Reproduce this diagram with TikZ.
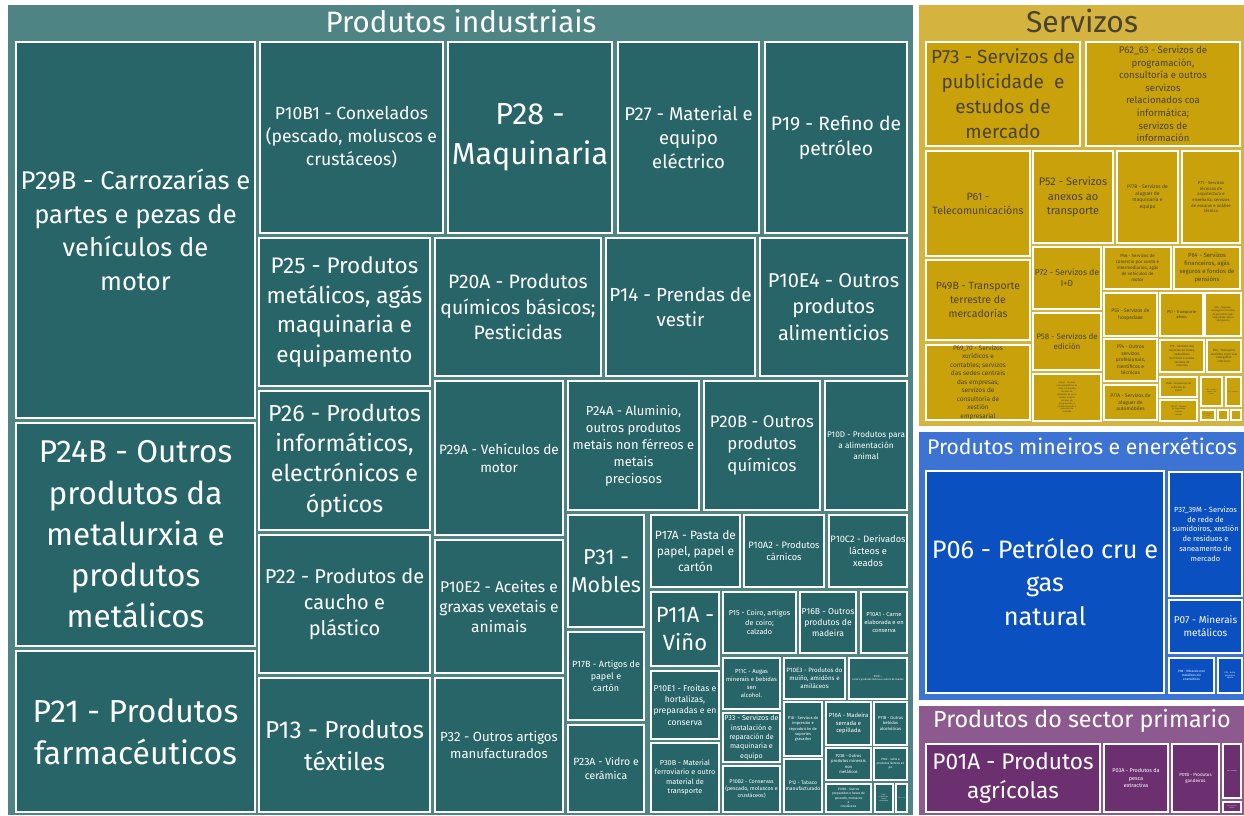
\documentclass[tikz,border=0pt]{standalone}
\usepackage{fontspec}
\setmainfont{Fira Sans}
\definecolor{indpanel}{HTML}{4F8484}
\definecolor{indtile}{HTML}{286569}
\definecolor{svpanel}{HTML}{D4B43F}
\definecolor{svtile}{HTML}{C9A20B}
\definecolor{svtext}{HTML}{4A4232}
\definecolor{mnpanel}{HTML}{3D73D2}
\definecolor{mntile}{HTML}{0B50C0}
\definecolor{prpanel}{HTML}{8C5A8E}
\definecolor{prtile}{HTML}{6C2F6F}
\tikzset{
  tilebase/.style={draw=white, line width=1.6pt, align=center, inner sep=0.5pt, anchor=center},
  ind/.style={tilebase, fill=indtile, text=white},
  sv/.style={tilebase, fill=svtile, text=svtext},
  mn/.style={tilebase, fill=mntile, text=white},
  pr/.style={tilebase, fill=prtile, text=white},
  header/.style={anchor=center, inner sep=0pt},
}
\newcommand\mytile[8]{%
  \pgfmathsetmacro\mtw{#5-#3}%
  \pgfmathsetmacro\mth{#6-#4}%
  \pgfmathsetmacro\mbl{#7*1.31}%
  \node[#1, minimum width=\mtw pt, minimum height=\mth pt, font=\fontsize{#7}{\mbl}\selectfont] (#2) at ({(#3+#5)/2},{(#4+#6)/2}) {#8};%
}
\begin{document}
\begin{tikzpicture}[x=1pt,y=-1pt]
\useasboundingbox (0,0) rectangle (1244,815);
\fill[white] (0,0) rectangle (1244,815);
% panels
\fill[indpanel] (8,5) rectangle (913,815);
\fill[svpanel] (919,5) rectangle (1244,426);
\fill[mnpanel] (919,432) rectangle (1244,700);
\fill[prpanel] (919,706) rectangle (1244,815);
\node[header, text=white, font=\fontsize{29.5}{34}\selectfont] (hind) at (461,21) {Produtos industriais};
\node[header, text=svtext, font=\fontsize{30}{34}\selectfont] (hsv) at (1082,21) {Servizos};
\node[header, text=white, font=\fontsize{21.2}{25}\selectfont] (hmn) at (1082,446) {Produtos mineiros e enerxéticos};
\node[header, text=white, font=\fontsize{23.3}{27}\selectfont] (hpr) at (1082,721) {Produtos do sector primario};
% industrial tiles
\mytile{ind}{P29B}{16}{42}{255}{418}{25.6}{P29B - Carrozarías e\\partes e pezas de\\vehículos de\\motor}
\mytile{ind}{P24B}{16}{423}{255}{646}{31.5}{P24B - Outros\\produtos da\\metalurxia e\\produtos\\metálicos}
\mytile{ind}{P21}{16}{651}{255}{812}{31.8}{P21 - Produtos\\farmacéuticos}
\mytile{ind}{P10B1}{260}{42}{443}{233}{17.6}{P10B1 - Conxelados\\(pescado, moluscos e\\crustáceos)}
\mytile{ind}{P28}{448}{42}{612}{233}{30.5}{P28 -\\Maquinaria}
\mytile{ind}{P27}{618}{42}{759}{233}{18.5}{P27 - Material e\\equipo\\eléctrico}
\mytile{ind}{P19}{765}{42}{907}{233}{19.3}{P19 - Refino de\\petróleo}
\mytile{ind}{P25}{259}{238}{430}{386}{22.5}{P25 - Produtos\\metálicos, agás\\maquinaria e\\equipamento}
\mytile{ind}{P26}{259}{391}{430}{530}{23.2}{P26 - Produtos\\informáticos,\\electrónicos e\\ópticos}
\mytile{ind}{P22}{259}{535}{430}{673}{20}{P22 - Produtos de\\caucho e\\plástico}
\mytile{ind}{P13}{259}{678}{430}{812}{24.4}{P13 - Produtos\\téxtiles}
\mytile{ind}{P20A}{435}{238}{601}{376}{19.4}{P20A - Produtos\\químicos básicos;\\Pesticidas}
\mytile{ind}{P14}{606}{238}{755}{376}{18.9}{P14 - Prendas de\\vestir}
\mytile{ind}{P10E4}{760}{238}{907}{376}{20}{P10E4 - Outros\\produtos\\alimenticios}
\mytile{ind}{P29A}{435}{381}{563}{535}{13.6}{P29A - Vehículos de\\motor}
\mytile{ind}{P10E2}{435}{540}{563}{673}{15.6}{P10E2 - Aceites e\\graxas vexetais e\\animais}
\mytile{ind}{P32}{435}{678}{563}{812}{13.2}{P32 - Outros artigos\\manufacturados}
\mytile{ind}{P24A}{568}{381}{699}{510}{13}{P24A - Aluminio,\\outros produtos\\metais non férreos e\\metais\\preciosos}
\mytile{ind}{P20B}{704}{381}{820}{510}{16.8}{P20B - Outros\\produtos\\químicos}
\mytile{ind}{P10D}{825}{381}{907}{510}{8.2}{P10D - Produtos para\\a alimentación\\animal}
\mytile{ind}{P31}{568}{515}{644}{627}{21.5}{P31 -\\Mobles}
\mytile{ind}{P17B}{568}{632}{644}{720}{9}{P17B - Artigos de\\papel e\\cartón}
\mytile{ind}{P23A}{568}{725}{644}{812}{10.5}{P23A - Vidro e\\cerámica}
\mytile{ind}{P17A}{651}{515}{740}{587}{12}{P17A - Pasta de\\papel, papel e\\cartón}
\mytile{ind}{P10A2}{744}{515}{824}{587}{9.3}{P10A2 - Produtos\\cárnicos}
\mytile{ind}{P10C2}{829}{515}{907}{587}{9.3}{P10C2 - Derivados\\lácteos e\\xeados}
\mytile{ind}{P11A}{651}{592}{719}{666}{22}{P11A -\\Viño}
\mytile{ind}{P15}{723}{592}{796}{653}{7.3}{P15 - Coiro, artigos\\de coiro;\\calzado}
\mytile{ind}{P16B}{800}{592}{856}{653}{8.6}{P16B - Outros\\produtos de\\madeira}
\mytile{ind}{P10A1}{861}{592}{907}{653}{5.8}{P10A1 - Carne\\elaborada e en\\conserva}
\mytile{ind}{P10E1}{651}{671}{719}{739}{8.6}{P10E1 - Froitas e\\hortalizas,\\preparadas e en\\conserva}
\mytile{ind}{P30B}{651}{743}{719}{812}{7.3}{P30B - Material\\ferroviario e outro\\material de\\transporte}
\mytile{ind}{P11C}{723}{658}{780}{709}{5.9}{P11C - Augas\\minerais e bebidas\\sen\\alcohol.}
\mytile{ind}{P10E3}{784}{658}{845}{699}{6.2}{P10E3 - Produtos do\\muíño, amidóns e\\amiláceos}
\mytile{ind}{P10C1}{849}{658}{907}{699}{2.6}{P10C1 -\\Leite e produtos lácteos e outros derivados}
\mytile{ind}{P33}{723}{713}{780}{762}{7.1}{P33 - Servizos de\\instalación e\\reparación de\\maquinaria e\\equipo}
\mytile{ind}{P10B2}{723}{766}{780}{812}{5.4}{P10B2 - Conservas\\(pescado, moluscos e\\crustáceos)}
\mytile{ind}{P18}{784}{702}{822}{756}{4}{P18 - Servizos de\\impresión e\\reprodución de\\soportes\\gravados}
\mytile{ind}{P12}{784}{759}{822}{812}{5}{P12 - Tabaco\\manufacturado}
\mytile{ind}{P16A}{826}{702}{871}{745}{5.9}{P16A - Madeira\\serrada e\\cepillada}
\mytile{ind}{P11B}{874}{702}{907}{745}{4.2}{P11B - Outras\\bebidas\\alcohólicas}
\mytile{ind}{P23B}{826}{748}{871}{780}{4.2}{P23B - Outros\\produtos minerais\\non\\metálicos}
\mytile{ind}{P10Cb}{874}{748}{907}{780}{3.1}{P10C - Leite e\\produtos lácteos en\\po}
\mytile{ind}{P10B3}{826}{784}{871}{812}{3.2}{P10B3 - Outros\\preparados e bases de\\pescado, moluscos\\e\\crustáceos}
\mytile{ind}{P30A}{875}{784}{893}{812}{1.6}{P30A -\\Construción\\naval e\\aeronáutica}
\mytile{ind}{P24C}{896}{784}{907}{812}{1.2}{P24C - Ferro}
% servizos tiles
\mytile{sv}{P73}{926}{42}{1080}{146}{19}{P73 - Servizos de\\publicidade \ e\\estudos de\\mercado}
\mytile{sv}{P6263}{1086}{42}{1240}{146}{9.6}{P62\_63 - Servizos de\\programación,\\consultoría e outros\\servizos\\relacionados coa\\informática;\\servizos de\\información}
\mytile{sv}{P61}{926}{151}{1030}{256}{10.6}{P61 -\\Telecomunicacións}
\mytile{sv}{P52}{1033}{151}{1113}{243}{11}{P52 - Servizos\\anexos ao\\transporte}
\mytile{sv}{P77B}{1117}{151}{1178}{243}{5}{P77B - Servizos de\\aluguer de\\maquinaria e\\equipo}
\mytile{sv}{P71}{1182}{151}{1240}{243}{4.3}{P71 - Servizos\\técnicos de\\arquitectura e\\enxeñaría; servizos\\de ensaios e análise\\técnica}
\mytile{sv}{P49B}{926}{260}{1030}{340}{10.5}{P49B - Transporte\\terrestre de\\mercadorías}
\mytile{sv}{P72}{1033}{247}{1101}{309}{8.5}{P72 - Servizos de\\I+D}
\mytile{sv}{P46}{1104}{247}{1171}{289}{4.5}{P46 - Servizos de\\comercio por xunto e\\intermediarios, agás\\de vehículos de\\motor}
\mytile{sv}{P64}{1174}{247}{1240}{289}{6}{P64 - Servizos\\financeiros, agás\\seguros e fondos de\\pensións}
\mytile{sv}{P6970}{926}{345}{1030}{420}{6.5}{P69\_70 - Servizos\\xurídicos e\\contables; servizos\\das sedes centrais\\das empresas;\\servizos de\\consultoría de\\xestión\\empresarial}
\mytile{sv}{P58}{1033}{313}{1101}{370}{8}{P58 - Servizos de\\edición}
\mytile{sv}{P5960}{1033}{374}{1101}{421}{2.2}{P59\_60 - Servizos\\cinematográficos, de\\vídeo e televisión;\\servizos de\\gravación de son e\\edición musical;\\servizos de\\programación e\\emisión de radio e\\televisión de\\mercado}
\mytile{sv}{P55}{1104}{293}{1157}{336}{5}{P55 - Servizos de\\hospedaxe}
\mytile{sv}{P51}{1160}{293}{1203}{336}{4}{P51 - Transporte\\aéreo}
\mytile{sv}{P65}{1205}{293}{1241}{336}{2.6}{P65 - Seguros,\\reaseguros e fondos\\de pensións, agás\\Seguridade Social\\obrigatoria}
\mytile{sv}{P74}{1104}{339}{1157}{381}{5}{P74 - Outros\\servizos\\profesionais,\\científicos e\\técnicos}
\mytile{sv}{P79}{1160}{340}{1204}{372}{3}{P79 - Servizos das\\axencias de viaxes,\\operadores\\turísticos e outros\\servizos de\\reservas}
\mytile{sv}{P50}{1207}{340}{1241}{372}{3}{P50 - Transporte\\marítimo e por vías\\navegables\\interiores}
\mytile{sv}{P77A}{1104}{385}{1157}{420}{5}{P77A - Servizos de\\aluguer de\\automóbiles}
\mytile{sv}{P45}{1160}{377}{1197}{397}{2.6}{P45B - Reparación de\\vehículos de\\motor}
\mytile{sv}{P80}{1160}{400}{1197}{421}{2}{P80\_82 - Servizos\\de seguridade\\e outros\\servizos}
\mytile{sv}{P53}{1201}{377}{1222}{406}{1.6}{P53 - Servizos\\postais e de\\correos}
\mytile{sv}{P68}{1226}{377}{1241}{406}{1.3}{P68 - Inmobiliarios}
\mytile{sv}{P94}{1201}{410}{1215}{420}{1.2}{P94 - Asociativos\\servizos}
\mytile{sv}{P96}{1218}{410}{1228}{420}{0.8}{P96}
\mytile{sv}{P90}{1231}{410}{1241}{420}{0.8}{P90}
% mineiros
\mytile{mn}{P06}{926}{471}{1164}{693}{25.3}{P06 - Petróleo cru e\\gas\\natural}
\mytile{mn}{P3739M}{1169}{472}{1242}{596}{7.5}{P37\_39M - Servizos\\de rede de\\sumidoiros, xestión\\de residuos e\\saneamento de\\mercado}
\mytile{mn}{P07}{1169}{600}{1242}{653}{10}{P07 - Minerais\\metálicos}
\mytile{mn}{P08}{1169}{658}{1214}{693}{3.2}{P08 - Minerais non\\metálicos nin\\enerxéticos}
\mytile{mn}{P05}{1218}{658}{1242}{693}{2.1}{P05 - Hulla,\\antracita e\\lignito}
% primario
\mytile{pr}{P01A}{926}{744}{1100}{812}{22.6}{P01A - Produtos\\agrícolas}
\mytile{pr}{P03A}{1104}{744}{1168}{812}{5.5}{P03A - Produtos da\\pesca\\extractiva}
\mytile{pr}{P01B}{1172}{744}{1219}{812}{4.5}{P01B - Produtos\\gandeiros}
\mytile{pr}{P02}{1223}{744}{1241}{798}{1.4}{P02 - Silvícolas}
\mytile{pr}{P03B}{1223}{802}{1241}{812}{1.2}{P03B - Acuicultura\\produtos}
\end{tikzpicture}
\end{document}
